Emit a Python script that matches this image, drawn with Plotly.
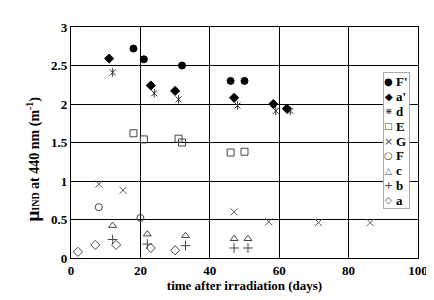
import plotly.graph_objects as go

# data
Fp_x = [18, 21, 32, 46, 50]
Fp_y = [2.72, 2.58, 2.50, 2.30, 2.30]
ap_x = [11, 23, 30, 47, 58.3, 62.2]
ap_y = [2.59, 2.24, 2.17, 2.08, 2.00, 1.94]
d_x = [12, 24, 31, 48, 59, 63.2]
d_y = [2.41, 2.14, 2.06, 1.98, 1.91, 1.91]
E_x = [18, 21, 31, 32, 46, 50]
E_y = [1.62, 1.54, 1.55, 1.50, 1.37, 1.38]
G_x = [8, 15, 47, 57, 71.3, 86.2]
G_y = [0.96, 0.88, 0.60, 0.47, 0.46, 0.46]
F_x = [8, 20]
F_y = [0.66, 0.52]
c_x = [12, 22, 33, 47, 51]
c_y = [0.42, 0.31, 0.29, 0.25, 0.25]
b_x = [12, 22, 33, 47, 51]
b_y = [0.24, 0.18, 0.16, 0.13, 0.13]
a_x = [2, 7, 13, 23, 30]
a_y = [0.08, 0.17, 0.17, 0.13, 0.10]

x_ticks = [0, 20, 40, 60, 80, 100]
y_ticks = [0, 0.5, 1, 1.5, 2, 2.5, 3]
y_tick_labels = ["0", "0.5", "1", "1.5", "2", "2.5", "3"]

# name, x, y, plot symbol, size, colour, legend glyph, glyph size
series = [
    ("F'", Fp_x, Fp_y, "circle", 7, "black", "●", 10),
    ("a'", ap_x, ap_y, "diamond", 7, "black", "◆", 10),
    ("d", d_x, d_y, "x-thin-open", 6, "#333", "⋇", 9),
    ("E", E_x, E_y, "square-open", 7, "#444", "□", 9),
    ("G", G_x, G_y, "x-thin-open", 7, "#555", "×", 11),
    ("F", F_x, F_y, "circle-open", 7, "#444", "○", 10),
    ("c", c_x, c_y, "triangle-up-open", 7, "#444", "△", 9),
    ("b", b_x, b_y, "cross-thin-open", 7, "#444", "+", 11),
    ("a", a_x, a_y, "diamond-open", 7, "#444", "◇", 9),
]

X_RANGE = [0, 100]
Y_RANGE = [0, 3]
PLOT_W = 434 - 63 - 24
PLOT_H = 300 - 16 - 50
LEG_X = [0.899, 0.977]
LEG_Y = [0.214, 0.799]

fig = go.Figure()
for name, xs, ys, sym, sz, col, glyph, gsz in series:
    fig.add_trace(go.Scatter(
        x=xs, y=ys, mode="markers", name=name, showlegend=False,
        marker=dict(symbol=sym, size=sz, color=col,
                    line=dict(color=col, width=1)),
    ))
    if name == "d":
        fig.add_trace(go.Scatter(
            x=xs, y=ys, mode="markers", showlegend=False, hoverinfo="skip",
            marker=dict(symbol="line-ns-open", size=6, color=col,
                        line=dict(color=col, width=1)),
        ))

annotations = []
# legend box: an annotation with fixed size, white background and grey border
annotations.append(dict(
    text="\u00a0", xref="paper", yref="paper",
    x=(LEG_X[0] + LEG_X[1]) / 2, y=(LEG_Y[0] + LEG_Y[1]) / 2,
    xanchor="center", yanchor="middle", showarrow=False,
    width=round((LEG_X[1] - LEG_X[0]) * PLOT_W) - 2,
    height=round((LEG_Y[1] - LEG_Y[0]) * PLOT_H) - 2,
    bgcolor="white", bordercolor="#aaa", borderwidth=1, borderpad=0,
    font=dict(size=10, color="white"),
))
# compact legend rows: one per series index
for i, (name, xs, ys, sym, sz, col, glyph, gsz) in enumerate(series):
    annotations.append(dict(
        text=glyph, x=0.22, y=i, xref="x2", yref="y2",
        xanchor="center", yanchor="middle", showarrow=False,
        font=dict(family="DejaVu Sans", size=gsz, color=col),
    ))
    annotations.append(dict(
        text="<b>" + name + "</b>", x=0.4, y=i, xref="x2", yref="y2",
        xanchor="left", yanchor="middle", showarrow=False,
        font=dict(family="Liberation Serif", size=13, color="black"),
    ))

annotations.append(dict(
    text="<b><span style='font-size:19px'>μ</span><span style='font-size:10px'>IND</span> at 440 nm (m<sup>-1</sup>)</b>",
    xref="paper", yref="paper", x=-0.11, y=0.43,
    xanchor="center", yanchor="middle", textangle=-90,
    showarrow=False, font=dict(family="Liberation Serif", size=14, color="black"),
))

font = dict(family="Liberation Serif", size=13, color="black")

fig.update_layout(
    width=434, height=300,
    margin=dict(l=63, r=24, t=16, b=50),
    paper_bgcolor="white", plot_bgcolor="white",
    font=font,
    showlegend=False,
    xaxis=dict(
        domain=[0, 1],
        range=X_RANGE, tickvals=x_ticks, ticks="",
        showgrid=True, gridcolor="black", gridwidth=1.3,
        showline=True, linecolor="black", linewidth=1.3, mirror=True,
        zeroline=False,
        tickfont=dict(family="Liberation Serif", size=13, weight="bold"),
        title=dict(text="<b>time after irradiation (days)</b>", standoff=4,
                   font=dict(family="Liberation Serif", size=13)),
    ),
    yaxis=dict(
        domain=[0, 1],
        range=Y_RANGE, tickvals=y_ticks, ticktext=y_tick_labels, ticks="",
        showgrid=True, gridcolor="black", gridwidth=1.3,
        showline=True, linecolor="black", linewidth=1.3, mirror=True,
        zeroline=False,
        tickfont=dict(family="Liberation Serif", size=13, weight="bold"),
    ),
    xaxis2=dict(
        domain=LEG_X, anchor="y2", range=[0, 1], visible=False,
        fixedrange=True,
    ),
    yaxis2=dict(
        domain=LEG_Y, anchor="x2", range=[8.55, -0.55], visible=False,
        fixedrange=True,
    ),
    annotations=annotations,
)

fig.write_html("out.html")
